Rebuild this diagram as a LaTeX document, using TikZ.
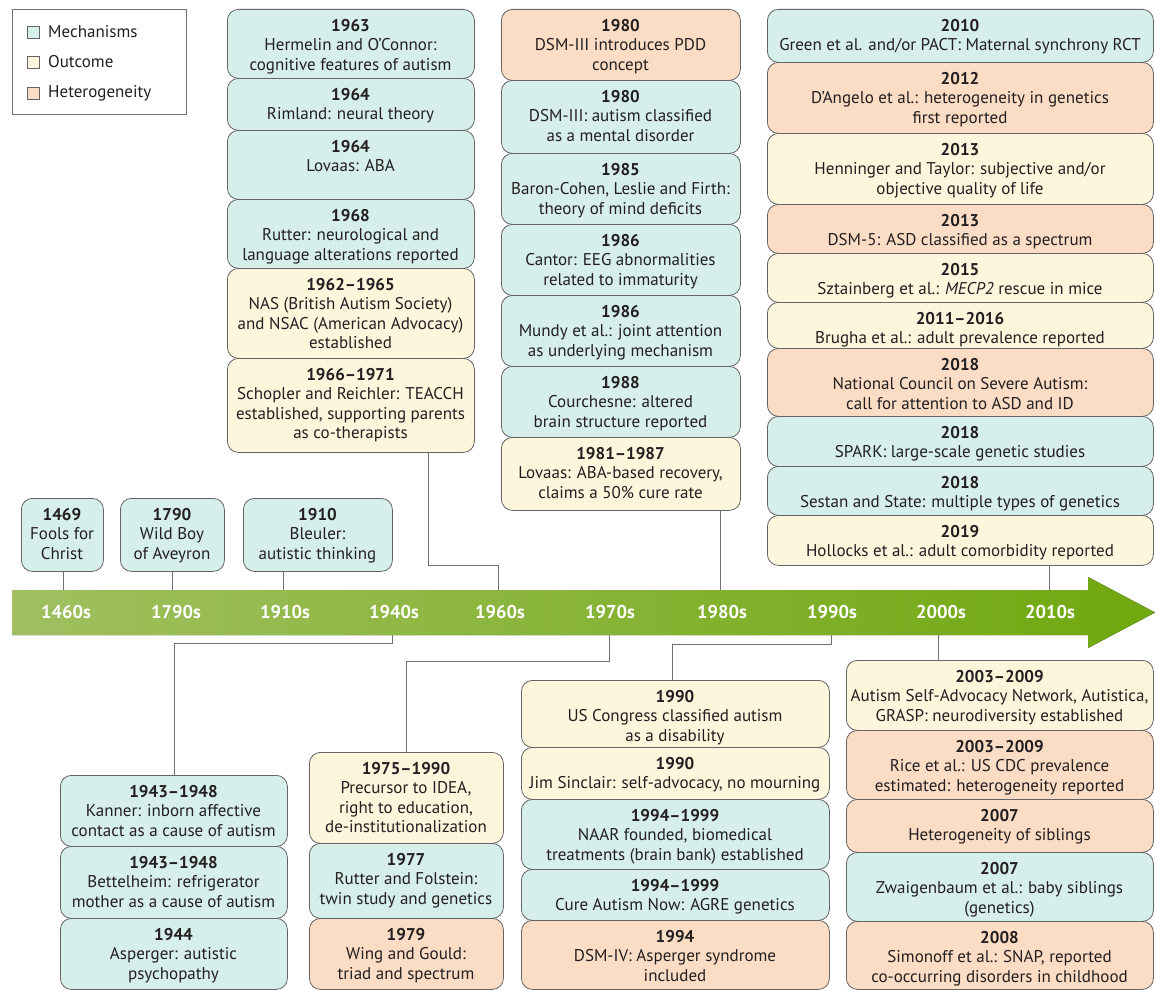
\documentclass[tikz,border=0pt]{standalone}
\usepackage{fontspec}
\setmainfont{PT Sans}
\usetikzlibrary{calc}
\definecolor{mechc}{HTML}{D6EFEB}
\definecolor{outc}{HTML}{FDF6DC}
\definecolor{hetc}{HTML}{FBDCC4}
\definecolor{edgec}{HTML}{646464}
\definecolor{linec}{HTML}{707070}
\definecolor{txtc}{HTML}{231F20}
\definecolor{barL}{HTML}{A0C060}
\definecolor{barR}{HTML}{70A80F}
\tikzset{
 evbox/.style={draw=edgec, line width=0.8pt, rounded corners=11pt, inner sep=0pt, anchor=north west},
 evtext/.style={text=txtc, align=center, inner sep=0pt, anchor=north, font=\fontsize{17}{19.5}\selectfont},
 conn/.style={draw=linec, line width=0.9pt},
 decade/.style={text=white, font=\fontsize{18.5}{20}\selectfont\bfseries, inner sep=0pt},
 legsq/.style={draw=edgec, line width=0.6pt, minimum width=12pt, minimum height=12pt, inner sep=0pt},
 legtext/.style={text=txtc, font=\fontsize{17}{19}\selectfont, anchor=west, inner sep=0pt},
}
\newcommand{\tlbox}[7]{%
 \node[evbox, fill=#2, minimum width={#5-#3}, minimum height={#6-#4}] (#1) at (#3,#4) {};
 \node[evtext] (#1t) at ({(#3+#5)/2},{#4+10}) {#7};
}
\begin{document}
\begin{tikzpicture}[x=1pt,y=-1pt]
\useasboundingbox (0,0) rectangle (1155,990);
% legend
\node[draw=linec, line width=0.7pt, minimum width=174pt, minimum height=105pt, anchor=north west, inner sep=0pt] (legend) at (12,9) {};
\node[legsq, fill=mechc] (lq1) at (33,32) {};
\node[legsq, fill=outc] (lq2) at (33,62) {};
\node[legsq, fill=hetc] (lq3) at (33,93) {};
\node[legtext] (lt1) at (48,32) {Mechanisms};
\node[legtext] (lt2) at (48,62) {Outcome};
\node[legtext] (lt3) at (48,93) {Heterogeneity};

% small boxes above bar
\tlbox{s1}{mechc}{21}{498}{103}{571}{\textbf{1469}\\Fools for\\Christ}
\tlbox{s2}{mechc}{120}{498}{224}{571}{\textbf{1790}\\Wild Boy\\of Aveyron}
\tlbox{s3}{mechc}{243}{498}{392}{571}{\textbf{1910}\\Bleuler:\\autistic thinking}

% top column 1
\tlbox{a1}{mechc}{227}{9}{474}{78}{\textbf{1963}\\Hermelin and O’Connor:\\cognitive features of autism}
\tlbox{a2}{mechc}{227}{78}{474}{130}{\textbf{1964}\\Rimland: neural theory}
\tlbox{a3}{mechc}{227}{130}{474}{199}{\textbf{1964}\\Lovaas: ABA}
\tlbox{a4}{mechc}{227}{199}{474}{268}{\textbf{1968}\\Rutter: neurological and\\language alterations reported}
\tlbox{a5}{outc}{227}{268}{474}{358}{\textbf{1962--1965}\\NAS (British Autism Society)\\and NSAC (American Advocacy)\\established}
\tlbox{a6}{outc}{227}{358}{474}{452}{\textbf{1966--1971}\\Schopler and Reichler: TEACCH\\established, supporting parents\\as co-therapists}

% top column 2
\tlbox{b1}{hetc}{501}{9}{740}{80}{\textbf{1980}\\DSM-III introduces PDD\\concept}
\tlbox{b2}{mechc}{501}{80}{740}{153}{\textbf{1980}\\DSM-III: autism classified\\as a mental disorder}
\tlbox{b3}{mechc}{501}{153}{740}{224}{\textbf{1985}\\Baron-Cohen, Leslie and Firth:\\theory of mind deficits}
\tlbox{b4}{mechc}{501}{224}{740}{295}{\textbf{1986}\\Cantor: EEG abnormalities\\related to immaturity}
\tlbox{b5}{mechc}{501}{295}{740}{366}{\textbf{1986}\\Mundy et al.: joint attention\\as underlying mechanism}
\tlbox{b6}{mechc}{501}{366}{740}{437}{\textbf{1988}\\Courchesne: altered\\brain structure reported}
\tlbox{b7}{outc}{501}{437}{740}{510}{\textbf{1981--1987}\\Lovaas: ABA-based recovery,\\claims a 50\% cure rate}

% top column 3
\tlbox{c1}{mechc}{767}{9}{1153}{62}{\textbf{2010}\\Green et al. and/or PACT: Maternal synchrony RCT}
\tlbox{c2}{hetc}{767}{62}{1153}{133}{\textbf{2012}\\D’Angelo et al.: heterogeneity in genetics\\first reported}
\tlbox{c3}{outc}{767}{133}{1153}{204}{\textbf{2013}\\Henninger and Taylor: subjective and/or\\objective quality of life}
\tlbox{c4}{hetc}{767}{204}{1153}{253}{\textbf{2013}\\DSM-5: ASD classified as a spectrum}
\tlbox{c5}{outc}{767}{253}{1153}{302}{\textbf{2015}\\Sztainberg et al.: \textit{MECP2} rescue in mice}
\tlbox{c6}{outc}{767}{302}{1153}{348}{\textbf{2011--2016}\\Brugha et al.: adult prevalence reported}
\tlbox{c7}{hetc}{767}{348}{1153}{416}{\textbf{2018}\\National Council on Severe Autism:\\call for attention to ASD and ID}
\tlbox{c8}{mechc}{767}{416}{1153}{466}{\textbf{2018}\\SPARK: large-scale genetic studies}
\tlbox{c9}{mechc}{767}{466}{1153}{515}{\textbf{2018}\\Sestan and State: multiple types of genetics}
\tlbox{c10}{outc}{767}{515}{1153}{565}{\textbf{2019}\\Hollocks et al.: adult comorbidity reported}

% bottom column A
\tlbox{p1}{mechc}{60}{775}{287}{846}{\textbf{1943--1948}\\Kanner: inborn affective\\contact as a cause of autism}
\tlbox{p2}{mechc}{60}{846}{287}{918}{\textbf{1943--1948}\\Bettelheim: refrigerator\\mother as a cause of autism}
\tlbox{p3}{mechc}{60}{918}{287}{989}{\textbf{1944}\\Asperger: autistic\\psychopathy}

% bottom column B
\tlbox{q1}{outc}{309}{752}{503}{843}{\textbf{1975--1990}\\Precursor to IDEA,\\right to education,\\de-institutionalization}
\tlbox{q2}{mechc}{309}{843}{503}{918}{\textbf{1977}\\Rutter and Folstein:\\twin study and genetics}
\tlbox{q3}{hetc}{309}{918}{503}{989}{\textbf{1979}\\Wing and Gould:\\triad and spectrum}

% bottom column C
\tlbox{r1}{outc}{521}{680}{829}{747}{\textbf{1990}\\US Congress classified autism\\as a disability}
\tlbox{r2}{outc}{521}{747}{829}{799}{\textbf{1990}\\Jim Sinclair: self-advocacy, no mourning}
\tlbox{r3}{mechc}{521}{799}{829}{869}{\textbf{1994--1999}\\NAAR founded, biomedical\\treatments (brain bank) established}
\tlbox{r4}{mechc}{521}{869}{829}{920}{\textbf{1994--1999}\\Cure Autism Now: AGRE genetics}
\tlbox{r5}{hetc}{521}{920}{829}{989}{\textbf{1994}\\DSM-IV: Asperger syndrome\\included}

% bottom column D
\tlbox{t1}{outc}{846}{660}{1153}{730}{\textbf{2003--2009}\\Autism Self-Advocacy Network, Autistica,\\GRASP: neurodiversity established}
\tlbox{t2}{hetc}{846}{730}{1153}{799}{\textbf{2003--2009}\\Rice et al.: US CDC prevalence\\estimated: heterogeneity reported}
\tlbox{t3}{hetc}{846}{799}{1153}{852}{\textbf{2007}\\Heterogeneity of siblings}
\tlbox{t4}{mechc}{846}{852}{1153}{921}{\textbf{2007}\\Zwaigenbaum et al.: baby siblings\\(genetics)}
\tlbox{t5}{hetc}{846}{921}{1153}{989}{\textbf{2008}\\Simonoff et al.: SNAP, reported\\co-occurring disorders in childhood}

% timeline bar
\fill[left color=barL, right color=barR] (12,590) -- (1088,590) -- (1088,577) -- (1155,612.5) -- (1088,648) -- (1088,635) -- (12,635) -- cycle;
\coordinate (bartop) at (0,590);
\coordinate (barbot) at (0,635);
\node[decade] (d1460) at (66,612) {1460s};
\node[decade] (d1790) at (176,612) {1790s};
\node[decade] (d1910) at (285,612) {1910s};
\node[decade] (d1940) at (394,612) {1940s};
\node[decade] (d1960) at (500,612) {1960s};
\node[decade] (d1970) at (610,612) {1970s};
\node[decade] (d1980) at (722,612) {1980s};
\node[decade] (d1990) at (832,612) {1990s};
\node[decade] (d2000) at (941,612) {2000s};
\node[decade] (d2010) at (1050,612) {2010s};

% connectors above
\coordinate (k1) at (63,0);
\coordinate (k2) at (172,0);
\coordinate (k3) at (283,0);
\draw[conn] (s1.south -| k1) -- (k1 |- bartop);
\draw[conn] (s2.south -| k2) -- (k2 |- bartop);
\draw[conn] (s3.south -| k3) -- (k3 |- bartop);
\coordinate (j1a) at (428,565);
\coordinate (j1b) at (498,565);
\draw[conn] (a6.south -| j1a) -- (j1a) -- (j1b) -- (j1b |- bartop);
\coordinate (j2) at (720,0);
\draw[conn] (b7.south -| j2) -- (j2 |- bartop);
\coordinate (j3) at (1049,0);
\draw[conn] (c10.south -| j3) -- (j3 |- bartop);

% connectors below
\coordinate (m1a) at (392,643);
\coordinate (m1b) at (174,643);
\draw[conn] (m1a |- barbot) -- (m1a) -- (m1b) -- (m1b |- p1.north);
\coordinate (m2a) at (609,661);
\coordinate (m2b) at (406,661);
\draw[conn] (m2a |- barbot) -- (m2a) -- (m2b) -- (m2b |- q1.north);
\coordinate (m3a) at (831,644);
\coordinate (m3b) at (672,644);
\draw[conn] (m3a |- barbot) -- (m3a) -- (m3b) -- (m3b |- r1.north);
\coordinate (m4) at (938,0);
\draw[conn] (m4 |- barbot) -- (m4 |- t1.north);
\end{tikzpicture}
\end{document}
